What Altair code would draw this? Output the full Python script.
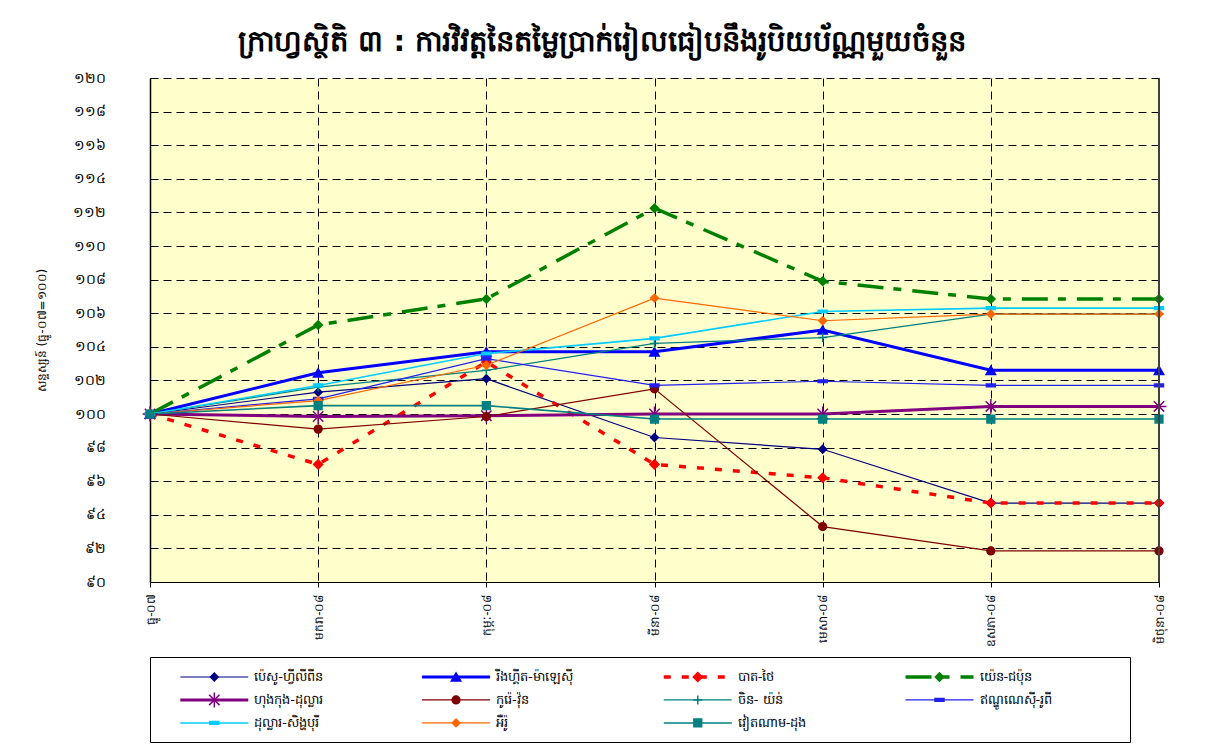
import altair as alt
import pandas as pd

# ---------------- data ----------------
months = ["ធ្នូ-០៧", "មករា-០៨", "កុម្ភៈ-០៨", "មីនា-០៨", "មេសា-០៨", "ឧសភា-០៨", "មិថុនា-០៨"]
series = ["ប៉េសូ-ហ្វីលីពីន", "រីងហ្គីត-ម៉ាឡេស៊ី", "បាត-ថៃ", "យ៉េន-ជប៉ុន",
          "ហុងកុង-ដុល្លារ", "កូរ៉េ-វ៉ុន", "ចិន- យ៉ន់", "ឥណ្ឌូណេស៊ី-រូពី",
          "ដុល្លារ-សិង្ហបុរី", "អឺរ៉ូ", "វៀតណាម-ដុង"]

peso = [100, 101.3, 102.1, 98.6, 97.9, 94.7, 94.7]
ringgit = [100, 102.45, 103.7, 103.7, 105.0, 102.6, 102.6]
baht = [100, 97.0, 103.1, 97.0, 96.2, 94.7, 94.7]
yen = [100, 105.3, 106.85, 112.25, 107.9, 106.85, 106.85]
hkd = [100, 99.85, 99.9, 100.0, 100.0, 100.45, 100.45]
won = [100, 99.1, 99.85, 101.5, 93.3, 91.85, 91.85]
yuan = [100, 101.6, 102.6, 104.2, 104.55, 105.95, 105.95]
rupiah = [100, 100.9, 103.3, 101.7, 101.95, 101.7, 101.7]
sgd = [100, 101.7, 103.6, 104.5, 106.1, 106.3, 106.3]
euro = [100, 100.8, 102.9, 106.9, 105.55, 105.95, 105.95]
dong = [100, 100.5, 100.5, 99.7, 99.7, 99.7, 99.7]

values = [peso, ringgit, baht, yen, hkd, won, yuan, rupiah, sgd, euro, dong]

y_ticks = list(range(90, 121, 2))
y_tick_labels = ["៩០", "៩២", "៩៤", "៩៦", "៩៨", "១០០", "១០២", "១០៤", "១០៦", "១០៨",
                 "១១០", "១១២", "១១៤", "១១៦", "១១៨", "១២០"]

title_text = "ក្រាហ្វស្ថិតិ ៣ :  ការវិវត្តនៃតម្លៃប្រាក់រៀលធៀបនឹងរូបិយប័ណ្ណមួយចំនួន"
y_title = "សន្ទស្សន៍ (ធ្នូ-០៧=១០០)"

# ---------------- styles ----------------
ASTERISK = "M-1,0L1,0M0,-1L0,1M-0.7,-0.7L0.7,0.7M-0.7,0.7L0.7,-0.7"
PLUS = "M-1,0L1,0M0,-1L0,1"
DASH = "M-1,-0.3L1,-0.3L1,0.3L-1,0.3Z"

styles = [
    dict(color="#000080", width=1.2, dash=None, shape="diamond", size=60),
    dict(color="#0000FF", width=3, dash=None, shape="triangle-up", size=90),
    dict(color="#FF0000", width=3.5, dash=[7, 11], shape="diamond", size=80),
    dict(color="#008000", width=3.5, dash=[26, 10, 8, 11], shape="diamond", size=70),
    dict(color="#800080", width=3, dash=None, shape=ASTERISK, size=220),
    dict(color="#800000", width=1.2, dash=None, shape="circle", size=60),
    dict(color="#008080", width=1.2, dash=None, shape=PLUS, size=80),
    dict(color="#2020F0", width=1.2, dash=None, shape=DASH, size=80),
    dict(color="#00CCFF", width=1.6, dash=None, shape=DASH, size=80),
    dict(color="#FF6600", width=1.2, dash=None, shape="diamond", size=60),
    dict(color="#008080", width=1.6, dash=None, shape="square", size=60),
]

FONT = "DejaVu Sans"

rows = []
for name, vals in zip(series, values):
    for m, v in zip(months, vals):
        rows.append({"series": name, "month": m, "value": v})
df = pd.DataFrame(rows)

label_expr = "[" + ",".join("'%s'" % t for t in y_tick_labels) + "][round((datum.value-90)/2)]"

x_enc = alt.X("month:N", sort=months,
              scale=alt.Scale(type="point", padding=0),
              axis=alt.Axis(title=None, labelAngle=270, labelAlign="right", labelBaseline="middle",
                            labelFontSize=12, labelPadding=6, labelColor="black",
                            domainColor="black", tickColor="black", tickSize=5,
                            grid=True, gridColor="black", gridDash=[8, 5], gridWidth=1))
y_enc = alt.Y("value:Q",
              scale=alt.Scale(domain=[90, 120], nice=False, zero=False),
              axis=alt.Axis(values=y_ticks, labelExpr=label_expr, title=y_title,
                            titleFontSize=12, titleFontWeight="normal", titlePadding=24,
                            labelFontSize=14, labelPadding=45, labelColor="black",
                            ticks=False, domainColor="black", domainWidth=1.5,
                            grid=True, gridColor="black", gridDash=[8, 5], gridWidth=1))

base = alt.Chart(df)
line_layers = []
point_layers = []
for name, st in zip(series, styles):
    b = base.transform_filter(alt.datum.series == name)
    lk = dict(color=st["color"], strokeWidth=st["width"])
    if st["dash"]:
        lk["strokeDash"] = st["dash"]
    line_layers.append(b.mark_line(**lk).encode(x=x_enc, y=y_enc))
    point_layers.append(
        b.mark_point(shape=st["shape"], size=st["size"], filled=True, fill=st["color"],
                     stroke=st["color"], strokeWidth=1.5, opacity=1).encode(x=x_enc, y=y_enc))

right_border = alt.Chart(df).mark_rule(color="#404040", strokeWidth=2).encode(
    x=alt.datum(months[-1]))

main = alt.layer(*line_layers, *point_layers, right_border).properties(
    width=1009, height=504,
    view=alt.ViewBackground(fill="#FFFFCC", stroke=None))

# ---------------- legend ----------------
leg_df = pd.DataFrame({"series": series,
                       "col": [i % 4 for i in range(len(series))],
                       "row": [i // 4 for i in range(len(series))]})
lx = alt.X("col:Q", scale=alt.Scale(domain=[-0.266, 3.788]), axis=None)
ly = alt.Y("row:Q", scale=alt.Scale(domain=[-0.87, 2.83], reverse=True), axis=None)

leg_base = alt.Chart(leg_df)
leg_layers = []
for name, st in zip(series, styles):
    b = leg_base.transform_filter(alt.datum.series == name)
    rk = dict(color=st["color"], strokeWidth=st["width"], xOffset=-34, x2Offset=34)
    if st["dash"]:
        rk["strokeDash"] = st["dash"]
    leg_layers.append(b.mark_rule(**rk).encode(x=lx, x2="col:Q", y=ly))
    leg_layers.append(
        b.mark_point(shape=st["shape"], size=st["size"], filled=True, fill=st["color"],
                     stroke=st["color"], strokeWidth=1.5, opacity=1).encode(x=lx, y=ly))
leg_text = leg_base.mark_text(align="left", baseline="middle", dx=40, fontSize=13,
                              font=FONT, color="black").encode(x=lx, y=ly, text="series:N")

legend = alt.layer(*leg_layers, leg_text).properties(
    width=980, height=85,
    view=alt.ViewBackground(fill="white", stroke="black", strokeWidth=1))

chart = alt.vconcat(main, legend, spacing=75, bounds="flush").properties(
    title=alt.TitleParams(title_text, fontSize=29, fontWeight="bold", anchor="middle",
                          font=FONT, color="black", offset=14),
    padding={"left": 27, "top": 20, "right": 5, "bottom": 5},
).configure(font=FONT).configure_view(strokeWidth=1)

chart.save("out.html", embed_options={"renderer": "svg", "actions": False})
